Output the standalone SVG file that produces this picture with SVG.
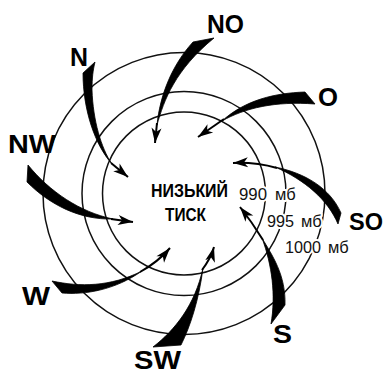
<svg xmlns="http://www.w3.org/2000/svg" width="384" height="374" viewBox="0 0 384 374">
<style>
.iso{fill:none;stroke:#111;stroke-width:1.5}
.dir{font-family:"Liberation Sans",Arial,sans-serif;font-weight:bold;font-size:26px;fill:#000}
.ctr{font-family:"Liberation Sans",Arial,sans-serif;font-weight:bold;font-size:18px;fill:#000}
.mb{font-family:"Liberation Sans",Arial,sans-serif;font-size:16.5px;fill:#111;stroke:#fff;stroke-width:4;paint-order:stroke;stroke-linejoin:round}
.wedge{fill:#000;stroke:#000;stroke-width:0.8;stroke-linejoin:round}
.shaft{fill:none;stroke:#000;stroke-width:2;marker-end:url(#head)}
</style>
<defs>
<marker id="head" viewBox="-16 -6 17 12" refX="0" refY="0" markerWidth="17" markerHeight="12" markerUnits="userSpaceOnUse" orient="auto">
<path d="M0,0 L-15,-5 L-11,0 L-15,5 Z" fill="#000"/>
</marker>
</defs>
<rect width="384" height="374" fill="#fff"/>
<g id="isobars">
<circle class="iso" cx="184" cy="193.5" r="81.5"/>
<circle class="iso" cx="184" cy="193.5" r="102"/>
<circle class="iso" cx="184" cy="193.5" r="141"/>
</g>
<g id="pressure-labels">
<text class="mb" x="239" y="200" textLength="28" lengthAdjust="spacingAndGlyphs">990</text>
<text class="mb" x="275" y="200">мб</text>
<text class="mb" x="267" y="227" textLength="27" lengthAdjust="spacingAndGlyphs">995</text>
<text class="mb" x="301" y="227">мб</text>
<text class="mb" x="285" y="253" textLength="36" lengthAdjust="spacingAndGlyphs">1000</text>
<text class="mb" x="328" y="253">мб</text>
</g>
<g id="center">
<text class="ctr" x="151" y="197" textLength="77" lengthAdjust="spacingAndGlyphs">НИЗЬКИЙ</text>
<text class="ctr" x="165" y="221" textLength="41" lengthAdjust="spacingAndGlyphs">ТИСК</text>
</g>
<g id="connectors">
<g id="arrow-N">
<path class="wedge" d="M95,62 L83,73 C83,110 95,145 112,164 C101,148 93,120 92,90 C92,78 93,70 95,62 Z"/>
<path class="shaft" d="M111,163 L128,177"/>
</g>
<g id="arrow-NO">
<path class="wedge" d="M193,42 C172,65 160,95 157,125 C164,100 175,70 214,38 Z"/>
<path class="shaft" d="M157,123 Q156,133 155,143"/>
</g>
<g id="arrow-O">
<path class="wedge" d="M305,92 C275,93 245,100 222,121 C245,108 275,101 315,104 Z"/>
<path class="shaft" d="M224,119 L198,137"/>
</g>
<g id="arrow-SO">
<path class="wedge" d="M275,167 C305,173 330,188 341,213 L338,224 C328,200 305,180 275,167 Z"/>
<path class="shaft" d="M277,168 Q255,162 233,163"/>
</g>
<g id="arrow-S">
<path class="wedge" d="M262,238 C272,255 286,275 285,305 L271,324 C276,295 272,265 262,238 Z"/>
<path class="shaft" d="M263,240 Q252,222 240,207"/>
</g>
<g id="arrow-SW">
<path class="wedge" d="M153,347 C175,330 195,305 203,268 C199,300 190,327 181,345 Z"/>
<path class="shaft" d="M202,270 Q211,258 214,247"/>
</g>
<g id="arrow-W">
<path class="wedge" d="M52,281 C80,287 110,287 142,271 C115,290 85,295 62,293 Z"/>
<path class="shaft" d="M140,272 Q158,262 170,248"/>
</g>
<g id="arrow-NW">
<path class="wedge" d="M28,165 C50,192 80,212 113,219 C80,220 50,205 27,182 Z"/>
<path class="shaft" d="M111,219 L133,222"/>
</g>
</g>
<g id="direction-labels">
<text class="dir" x="70" y="66" textLength="18" lengthAdjust="spacingAndGlyphs">N</text>
<text class="dir" x="207" y="33" textLength="37" lengthAdjust="spacingAndGlyphs">NO</text>
<text class="dir" x="318" y="105.5" textLength="20" lengthAdjust="spacingAndGlyphs">O</text>
<text class="dir" x="8" y="153" textLength="48" lengthAdjust="spacingAndGlyphs">NW</text>
<text class="dir" x="349" y="230" style="font-size:24px" textLength="34" lengthAdjust="spacingAndGlyphs">SO</text>
<text class="dir" x="22" y="305" textLength="28" lengthAdjust="spacingAndGlyphs">W</text>
<text class="dir" x="134" y="368.5" style="font-size:25px" textLength="47" lengthAdjust="spacingAndGlyphs">SW</text>
<text class="dir" x="273" y="343" textLength="19" lengthAdjust="spacingAndGlyphs">S</text>
</g>
</svg>
